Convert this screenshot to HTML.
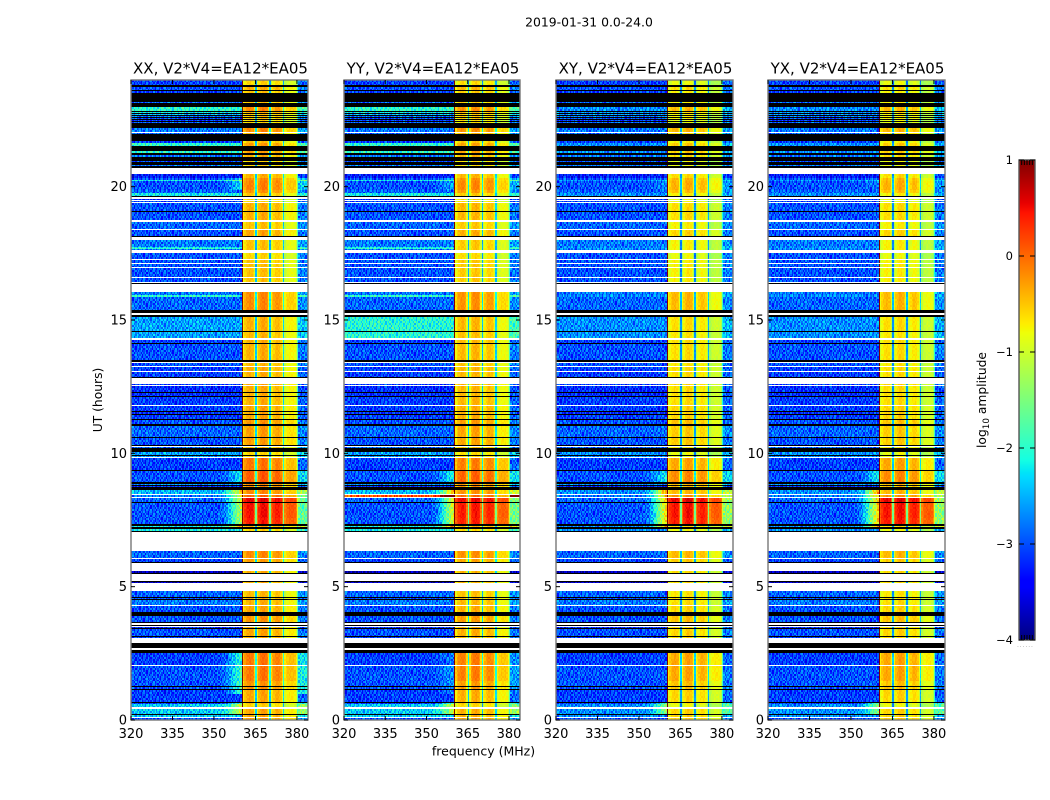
<!DOCTYPE html>
<html>
<head>
<meta charset="utf-8">
<title>Dynamic spectra 2019-01-31</title>
<style>
html,body{margin:0;padding:0;background:#fff;}
#figure{position:relative;width:1050px;height:800px;overflow:hidden;background:#fff;}
canvas{position:absolute;image-rendering:pixelated;}
svg{position:absolute;left:0;top:0;}
text{font-family:"DejaVu Sans","Liberation Sans",sans-serif;fill:#000;}
</style>
</head>
<body>
<div id="figure">
<svg id="overlay" width="1050" height="800">
  <text x="589" y="26.5" font-size="12.4" text-anchor="middle">2019-01-31 0.0-24.0</text>
  <text x="483.5" y="755.5" font-size="12.5" text-anchor="middle">frequency (MHz)</text>
  <text transform="translate(102,400) rotate(-90)" font-size="12.3" text-anchor="middle">UT (hours)</text>
  <text transform="translate(986,400) rotate(-90)" font-size="12.3" text-anchor="middle">log<tspan font-size="8.8" dy="3">10</tspan><tspan dy="-3"> amplitude</tspan></text>
  <text x="1017" y="647" font-size="6" letter-spacing="0.9" style="fill:#999">......</text>
</svg>
</div>
<script>
const W = null;
const K = -9;

const panelTitles = ["XX, V2*V4=EA12*EA05", "YY, V2*V4=EA12*EA05", "XY, V2*V4=EA12*EA05", "YX, V2*V4=EA12*EA05"];
const freqTicks = [320, 335, 350, 365, 380];
const hourTicks = [0, 5, 10, 15, 20];
const colorbarTicks = [1, 0, -1, -2, -3, -4];
const colorbarTickLabels = ["1", "0", "\u22121", "\u22122", "\u22123", "\u22124"];

/* Upper UT edge of each time block, in hours; a block ends where the next begins */
const rowTop = [
 24.00,23.81,23.74,23.63,23.59,23.51,23.18,23.14,22.99,22.84,
 22.80,22.76,22.73,22.69,22.65,22.61,22.58,22.54,22.50,22.46,
 22.43,22.39,22.20,22.05,22.01,21.98,21.71,21.64,21.53,21.34,
 21.26,21.19,21.11,20.96,20.93,20.81,20.78,20.70,20.46,20.33,
 20.25,20.21,19.88,19.76,19.65,19.61,19.54,19.50,19.46,19.43,
 19.39,19.09,19.05,18.75,18.68,18.41,18.38,18.15,18.11,18.00,
 17.74,17.70,17.66,17.63,17.51,17.29,17.25,17.14,17.10,16.99,
 16.95,16.61,16.58,16.43,16.39,16.35,16.05,15.92,15.88,15.38,
 15.26,15.19,15.11,14.59,14.55,14.34,14.25,14.14,14.10,13.50,
 13.43,13.37,13.28,13.24,13.09,13.05,12.86,12.83,12.60,12.56,
 12.53,12.30,12.26,12.15,12.11,11.81,11.78,11.59,11.55,11.49,
 11.44,11.29,11.25,11.10,11.02,10.61,10.58,10.31,10.28,10.24,
 10.20,10.05, 9.94, 9.90, 9.86, 9.81, 9.38, 9.34, 8.93, 8.85,
  8.81, 8.78, 8.74, 8.63, 8.48, 8.42, 8.36, 8.31, 8.18, 8.14,
  7.61, 7.56, 7.35, 7.29, 7.24, 7.16, 7.09, 7.05, 6.34, 6.07,
  6.02, 5.93, 5.89, 5.59, 5.53, 5.51, 5.21, 5.18, 5.14, 4.84,
  4.63, 4.58, 4.54, 4.50, 4.33, 4.29, 4.05, 3.90, 3.68, 3.64,
  3.56, 3.53, 3.49, 3.45, 3.41, 3.15, 3.11, 3.08, 2.89, 2.70,
  2.63, 2.51, 2.06, 2.03, 1.50, 1.46, 1.28, 1.24, 1.16, 1.13,
  0.68, 0.64, 0.60, 0.47, 0.43, 0.24, 0.20, 0.13, 0.08
];
/* log10 amplitude outside the 360-380 MHz band (W = flagged, K = zero amplitude) */
const rowLow = [
 -3.3,K,-3.2,K,-3.3,K,-3.1,K,-2.2,K,
 -2.4,K,-2.7,K,-3.0,K,-3.2,K,-3.3,K,
 -3.1,K,-3.0,W,-3.1,K,-3.3,-2.2,K,-2.2,
 K,-3.0,K,-3.2,K,-3.0,K,W,-3.5,-3.2,
 -2.4,-3.2,-3.1,-2.4,K,W,-3.4,W,-3.3,W,
 -3.2,K,-3.2,W,-3.1,W,-3.2,K,W,-3.0,
 -2.4,-2.2,-3.0,W,-3.2,W,-3.2,W,-3.2,W,
 -3.2,W,-3.2,W,K,W,-3.0,-2.2,-3.1,K,
 W,K,-2.8,K,-2.8,W,-3.3,K,-3.2,K,
 W,-3.2,W,-3.3,W,-3.3,K,W,-3.3,W,
 -3.4,K,-3.4,K,-3.3,W,-3.3,K,-3.4,K,
 -3.3,K,-3.2,K,-3.1,K,-3.2,K,W,-3.1,
 K,-2.8,K,-2.8,W,-3.3,K,-3.2,K,-2.9,
 K,-3.4,K,-2.7,W,-3.0,W,-3.1,K,-3.2,
 W,-3.2,K,-2.4,K,-2.4,K,W,-3.1,W,
 -3.3,K,W,-4.0,K,W,K,-4.0,W,-3.1,
 K,-3.2,K,-3.0,W,-3.2,K,-3.2,K,W,
 K,W,-3.4,K,-3.2,K,-3.3,W,K,W,
 K,-3.3,W,-3.2,W,-3.2,K,-3.2,K,-3.3,
 K,-3.3,-2.6,W,-2.6,K,-2.6,W,-3.2
];
/* log10 amplitude inside the 360-380 MHz band */
const rowBand = [
 -.7,K,-.5,K,-.6,K,-.6,K,-.3,K,
 -.5,K,-.6,K,-.6,K,-.6,K,-.7,K,
 -.7,K,-.3,W,-.5,K,-.6,-.4,K,-.4,
 K,-.5,K,-.7,K,-.7,K,W,-.5,-.3,
 -.3,-.25,-.35,-.6,K,W,-.7,W,-.7,W,
 -.5,K,-.5,W,-.6,W,-.45,K,W,-.6,
 -.6,-.6,-.6,W,-.7,W,-.6,W,-.6,W,
 -.6,W,-.6,W,K,W,-.3,-.3,-.3,K,
 W,K,-.5,K,-.55,W,-.5,K,-.5,K,
 W,-.55,W,-.5,W,-.5,K,W,-.45,W,
 -.5,K,-.5,K,-.5,W,-.45,K,-.45,K,
 -.45,K,-.35,K,-.4,K,-.4,K,W,-.6,
 K,-.7,K,-.7,W,-.2,K,-.05,K,-.3,
 K,-.3,K,-.3,W,-.1,W,.45,K,.35,
 W,.3,K,-.5,K,-.7,K,W,-.3,W,
 -.4,K,W,-.5,K,W,K,-.5,W,-.55,
 K,-.5,K,-.5,W,-.45,K,-.35,K,W,
 K,W,-.5,K,-.45,K,-.5,W,K,W,
 K,-.2,W,-.2,W,-.35,K,-.35,K,-.45,
 K,-.6,-.7,W,-.45,K,-.45,W,-.4
];

/* Offsets across the band: channels 360.5 to 380 MHz in 0.5 MHz steps, including the three gaps */
const bandProfile = [
 -.25,-.05,.05,.1,.15,.15,.1,.05,-.35, -1.9,
 -.35,0,.1,.15,.2,.2,.15,.05,-.35, -1.9,
 -.4,-.15,-.05,.05,.08,.08,.05,-.05,-.4, -1.8,
 -.5,-.35,-.3,-.25,-.25,-.25,-.25,-.3,-.5, -1.3
];
/* Rise below the band: channels 350 to 360 MHz in 0.5 MHz steps */
const rampProfile = [0,0,0,.02,.04,.06,.08,.12,.16,.22,.3,.38,.46,.55,.62,.7,.78,.85,.92,1];
/* UT ranges where the band skirts are raised, with rise size */
const rampStart = [7.16, 8.85, 0.20, 1.00, 19.88];
const rampEnd = [8.70, 9.40, 0.70, 2.55, 20.33];
const rampLift = [1.8, .8, 1.4, 1.1, .7];
const rampGainXX = [1, 1, 1, 1, 1];
const rampGainYY = [1.15, 1.1, 1, .3, .6];
const rampGainXY = [1.3, 1, .9, 0, .3];
const rampGainYX = [1.3, 1, .9, 0, .3];
const panelLowDelta = [.2, .2, .2, .2];
const panelBandDelta = [0, -.05, -.25, -.25];
/* Cross-hand panels (XY, YX) never reach the bright rows seen in XX and YY */
const panelLowCeiling = [9, 9, -2.7, -2.7];
/* Per-panel corrections */
const overridePanel = [1, 1, 1];
const overrideStart = [14.34, 8.36, 14.59];
const overrideEnd = [15.11, 8.42, 14.55];
const overrideLow = [-2.25, -0.1, -2.25];
/* Channel-to-channel scatter in log10 amplitude */
const speckle = [
 .12,-.31,.26,-.08,.38,-.22,.05,-.41,.18,.31,-.15,.02,-.34,.23,.44,-.27,.09,-.05,.29,-.38,
 .15,-.18,.34,-.11,-.43,.2,.07,-.25,.4,-.02,-.33,.13,.27,-.2,.36,-.09,-.37,.17,.04,-.29,
 .42,-.13,.22,-.4,.1,.33,-.24,-.06,.19,-.35,.3,.01,-.16,.39,-.28,.08,.25,-.44,.14,-.1,.32
];

const panelRampGains = [rampGainXX, rampGainYY, rampGainXY, rampGainYX];
const panelLeft = [131, 344, 556, 768];
const panelWidth = [177, 176, 177, 177];
const plotTop = 80, plotHeight = 640;
const freqMin = 320, freqMax = 384, hourMin = 0, hourMax = 24;
const cbarLeft = 1019, cbarWidth = 16, cbarTop = 160, cbarHeight = 480;
const scaleMin = -4, scaleMax = 1;

function xScale(f, p) { return panelLeft[p] + (f - freqMin) / (freqMax - freqMin) * panelWidth[p]; }
function yScale(h) { return plotTop + (hourMax - h) / (hourMax - hourMin) * plotHeight; }
function cbarY(v) { return cbarTop + (scaleMax - v) / (scaleMax - scaleMin) * cbarHeight; }

function lerpStops(t, xs, ys) {
  for (let i = 1; i < xs.length; i++) {
    if (t <= xs[i]) return ys[i - 1] + (ys[i] - ys[i - 1]) * (t - xs[i - 1]) / (xs[i] - xs[i - 1]);
  }
  return ys[ys.length - 1];
}
function jet(v) {
  const t = Math.max(0, Math.min(1, (v - scaleMin) / (scaleMax - scaleMin)));
  const r = lerpStops(t, [0, .35, .66, .89, 1], [0, 0, 1, 1, .5]);
  const g = lerpStops(t, [0, .125, .375, .64, .91, 1], [0, 0, 1, 1, 0, 0]);
  const b = lerpStops(t, [0, .11, .34, .65, 1], [.5, 1, 1, 0, 0]);
  return "rgb(" + Math.round(r * 255) + "," + Math.round(g * 255) + "," + Math.round(b * 255) + ")";
}

function rampAt(p, hour) {
  let lift = 0;
  rampStart.forEach(function (s, i) {
    if (hour > s && hour <= rampEnd[i]) lift = Math.max(lift, rampLift[i] * panelRampGains[p][i]);
  });
  return lift;
}
function lowLevel(p, rowIndex, hour) {
  let low = rowLow[rowIndex];
  overridePanel.forEach(function (q, i) {
    const a = Math.min(overrideStart[i], overrideEnd[i]), b = Math.max(overrideStart[i], overrideEnd[i]);
    if (q === p && hour > a && hour <= b) low = overrideLow[i];
  });
  return Math.min(low + panelLowDelta[p], panelLowCeiling[p]);
}
function channelLevel(p, rowIndex, hour, f, ch, line) {
  const s = speckle[(ch + line * 17 + p * 23) % speckle.length];
  if (f >= 360.5 && f < 380.5) {
    const bi = Math.round((f - 360.5) * 2);
    const hot = rowBand[rowIndex] > 0 ? .12 : 0;
    return rowBand[rowIndex] + panelBandDelta[p] + hot * (p > 1 ? 2 : 0) + bandProfile[bi] + s * .2;
  }
  const lift = rampAt(p, hour);
  const low = lowLevel(p, rowIndex, hour);
  if (f >= 380.5) return low + .2 + lift * .6 + s;
  if (f >= 350) return low + lift * rampProfile[Math.round((f - 350) * 2)] + s;
  return low + s;
}

const figure = document.getElementById("figure");
const overlay = document.getElementById("overlay");
const NS = "http://www.w3.org/2000/svg";

function drawHeatmap(p) {
  const canvas = document.createElement("canvas");
  
  
  canvas.width = panelWidth[p];
  canvas.height = plotHeight;
  canvas.style.left = panelLeft[p] + "px";
  canvas.style.top = plotTop + "px";
  figure.insertBefore(canvas, overlay);
  const ctx = canvas.getContext("2d");
  const lineStep = 0.075, chanStep = 0.5;
  const nChan = Math.round((freqMax - freqMin) / chanStep);
  const x0 = panelLeft[p], y0 = plotTop;
  for (let i = 0; i < rowTop.length; i++) {
    if (rowLow[i] === W) continue;
    const top = rowTop[i];
    const bottom = i + 1 < rowTop.length ? rowTop[i + 1] : hourMin;
    const yA = Math.round(yScale(top)) - y0;
    const yB = Math.max(yA + 1, Math.round(yScale(bottom)) - y0);
    if (rowLow[i] === K) {
      ctx.fillStyle = "#000";
      ctx.fillRect(0, yA, panelWidth[p], yB - yA);
      continue;
    }
    for (let h = top; h > bottom + 1e-6; h -= lineStep) {
      const h2 = Math.max(bottom, h - lineStep);
      const ya = Math.round(yScale(h)) - y0;
      const yb = Math.max(ya + 1, Math.round(yScale(h2)) - y0);
      const line = Math.floor((hourMax - h) / lineStep + 1e-6);
      for (let c = 0; c < nChan; c++) {
        const f = freqMin + c * chanStep;
        const xa = Math.round(xScale(f, p)) - x0;
        const xb = Math.round(xScale(f + chanStep, p)) - x0;
        if (xb <= xa) continue;
        ctx.fillStyle = jet(channelLevel(p, i, h, f, c, line));
        ctx.fillRect(xa, ya, xb - xa, yb - ya);
      }
    }
  }
}

function drawAxes(p) {
  const left = panelLeft[p], right = left + panelWidth[p], bottom = plotTop + plotHeight;
  const pol = panelTitles[p].slice(0, 2).toLowerCase();

  const frame = document.createElementNS(NS, "rect");
  
  
  frame.setAttribute("x", left);
  frame.setAttribute("y", plotTop);
  frame.setAttribute("width", panelWidth[p]);
  frame.setAttribute("height", plotHeight);
  frame.setAttribute("fill", "none");
  frame.setAttribute("stroke", "#777");
  frame.setAttribute("stroke-width", "1.4");
  overlay.appendChild(frame);

  const title = document.createElementNS(NS, "text");
  
  
  title.setAttribute("x", left + panelWidth[p] / 2 + 1);
  title.setAttribute("y", 73.5);
  title.setAttribute("font-size", "15");
  title.setAttribute("text-anchor", "middle");
  title.textContent = panelTitles[p];
  overlay.appendChild(title);

  freqTicks.forEach(function (f) {
    const x = xScale(f, p);
    const tick = document.createElementNS(NS, "line");
    
    
    tick.setAttribute("x1", x);
    tick.setAttribute("x2", x);
    tick.setAttribute("y1", bottom);
    tick.setAttribute("y2", bottom - 4);
    tick.setAttribute("stroke", "#000");
    overlay.appendChild(tick);
    const topTick = document.createElementNS(NS, "line");
    
    
    topTick.setAttribute("x1", x);
    topTick.setAttribute("x2", x);
    topTick.setAttribute("y1", plotTop);
    topTick.setAttribute("y2", plotTop + 4);
    topTick.setAttribute("stroke", "#000");
    overlay.appendChild(topTick);
    const label = document.createElementNS(NS, "text");
    
    
    label.setAttribute("x", x);
    label.setAttribute("y", 738);
    label.setAttribute("font-size", "13");
    label.setAttribute("text-anchor", "middle");
    label.textContent = f;
    overlay.appendChild(label);
  });

  hourTicks.forEach(function (h) {
    const y = yScale(h);
    const tick = document.createElementNS(NS, "line");
    
    
    tick.setAttribute("x1", left);
    tick.setAttribute("x2", left + 4);
    tick.setAttribute("y1", y);
    tick.setAttribute("y2", y);
    tick.setAttribute("stroke", "#000");
    overlay.appendChild(tick);
    const rightTick = document.createElementNS(NS, "line");
    
    
    rightTick.setAttribute("x1", right);
    rightTick.setAttribute("x2", right - 4);
    rightTick.setAttribute("y1", y);
    rightTick.setAttribute("y2", y);
    rightTick.setAttribute("stroke", "#000");
    overlay.appendChild(rightTick);
    const label = document.createElementNS(NS, "text");
    
    
    label.setAttribute("x", left - 4);
    label.setAttribute("y", y + 4.5);
    label.setAttribute("font-size", "13");
    label.setAttribute("text-anchor", "end");
    label.textContent = h;
    overlay.appendChild(label);
  });
}

function drawColorbar() {
  const canvas = document.createElement("canvas");
  
  
  canvas.width = cbarWidth;
  canvas.height = cbarHeight;
  canvas.style.left = cbarLeft + "px";
  canvas.style.top = cbarTop + "px";
  figure.insertBefore(canvas, overlay);
  const ctx = canvas.getContext("2d");
  for (let y = 0; y < cbarHeight; y++) {
    ctx.fillStyle = jet(scaleMax - (y + .5) / cbarHeight * (scaleMax - scaleMin));
    ctx.fillRect(0, y, cbarWidth, 1);
  }

  const frame = document.createElementNS(NS, "rect");
  
  
  frame.setAttribute("x", cbarLeft);
  frame.setAttribute("y", cbarTop);
  frame.setAttribute("width", cbarWidth);
  frame.setAttribute("height", cbarHeight);
  frame.setAttribute("fill", "none");
  frame.setAttribute("stroke", "#555");
  frame.setAttribute("stroke-width", "1.4");
  overlay.appendChild(frame);

  colorbarTicks.forEach(function (v, i) {
    const y = cbarY(v);
    const leftTick = document.createElementNS(NS, "line");
    
    
    leftTick.setAttribute("x1", cbarLeft);
    leftTick.setAttribute("x2", cbarLeft + 5);
    leftTick.setAttribute("y1", y);
    leftTick.setAttribute("y2", y);
    leftTick.setAttribute("stroke", "#000");
    overlay.appendChild(leftTick);
    const rightTick = document.createElementNS(NS, "line");
    
    
    rightTick.setAttribute("x1", cbarLeft + cbarWidth);
    rightTick.setAttribute("x2", cbarLeft + cbarWidth - 5);
    rightTick.setAttribute("y1", y);
    rightTick.setAttribute("y2", y);
    rightTick.setAttribute("stroke", "#000");
    overlay.appendChild(rightTick);
    const label = document.createElementNS(NS, "text");
    
    
    label.setAttribute("x", cbarLeft - 6);
    label.setAttribute("y", y + 4);
    label.setAttribute("font-size", "11.5");
    label.setAttribute("text-anchor", "end");
    label.textContent = colorbarTickLabels[i];
    overlay.appendChild(label);
  });

  [1, 2, 3, 4, 5].forEach(function (n) {
    const x = cbarLeft + n * cbarWidth / 6;
    const topMinor = document.createElementNS(NS, "line");
    
    
    topMinor.setAttribute("x1", x);
    topMinor.setAttribute("x2", x);
    topMinor.setAttribute("y1", cbarTop);
    topMinor.setAttribute("y2", cbarTop + 5);
    topMinor.setAttribute("stroke", "#000");
    overlay.appendChild(topMinor);
    const bottomMinor = document.createElementNS(NS, "line");
    
    
    bottomMinor.setAttribute("x1", x);
    bottomMinor.setAttribute("x2", x);
    bottomMinor.setAttribute("y1", cbarTop + cbarHeight);
    bottomMinor.setAttribute("y2", cbarTop + cbarHeight - 5);
    bottomMinor.setAttribute("stroke", "#000");
    overlay.appendChild(bottomMinor);
  });
}

panelTitles.forEach(function (t, p) {
  drawHeatmap(p);
  drawAxes(p);
});
drawColorbar();
</script>
</body>
</html>
